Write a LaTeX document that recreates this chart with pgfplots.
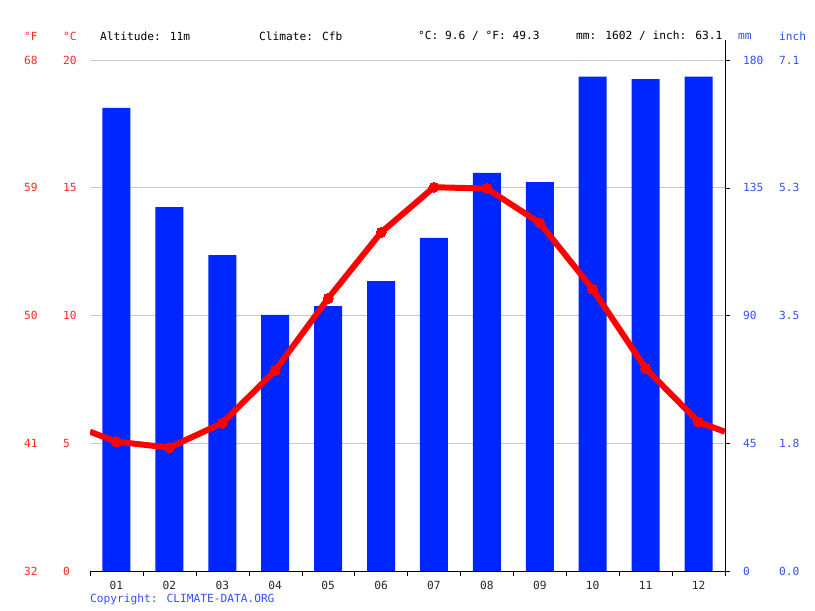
\documentclass[border=0pt]{standalone}
\usepackage{pgfplots}
\pgfplotsset{compat=1.18}
\usepackage{fontspec}
\setmainfont{DejaVu Sans Mono}

\definecolor{barblue}{RGB}{0,38,255}
\definecolor{linered}{RGB}{255,0,0}
\definecolor{lblred}{RGB}{255,40,40}
\definecolor{lblblue}{RGB}{50,80,255}
\definecolor{gridgray}{RGB}{200,200,200}
\definecolor{txtgray}{RGB}{40,40,40}

% precipitation (mm)
\pgfplotstableread{
m mm
1 163.1
2 128.2
3 111.3
4 90.2
5 93.3
6 102.1
7 117.3
8 140.2
9 137.0
10 174.1
11 173.3
12 174.1
}\precip

% temperature (C), half-months at the edges
\pgfplotstableread{
m t
0.5 5.45
1 5.06
2 4.83
3 5.79
4 7.85
5 10.67
6 13.25
7 15.02
8 14.97
9 13.62
10 11.03
11 7.93
12 5.83
12.5 5.45
}\temp

\pgfplotsset{
  base/.style={
    scale only axis, width=635pt, height=511pt,
    at={(90pt,40pt)}, anchor=south west,
    xmin=0.5, xmax=12.5,
    font=\fontsize{11.2}{13}\selectfont,
    /pgf/number format/assume math mode=true,
    tick label style={inner sep=0pt},
  },
}

\begin{document}
\begin{tikzpicture}
\path[use as bounding box] (0,0) rectangle (815pt,611pt);

% precipitation axis, right side
\begin{axis}[base,
  ymin=0, ymax=180,
  axis x line*=bottom, axis y line*=right,
  y axis line style={shorten >=-20pt},
  ytick={0,45,90,135,180},
  ymajorgrids, grid style={gridgray, line width=0.8pt},
  yticklabel style={anchor=west, text=lblblue, xshift=13pt},
  major y tick style={black}, major tick length=5pt, tick align=outside,
  xtick={1,...,12},
  xticklabels={01,02,03,04,05,06,07,08,09,10,11,12},
  xticklabel style={text=txtgray, yshift=-5pt},
  major x tick style={draw=none},
  minor xtick={0.5,1.5,...,12.5}, minor tick length=5pt,
  minor x tick style={black},
  x axis line style={black},
]
\addplot[ybar, bar width=28pt, fill=barblue, draw=none] table[x=m, y=mm] {\precip};
\end{axis}

% inch labels
\begin{axis}[base,
  ymin=0, ymax=180,
  hide x axis, axis y line*=right,
  y axis line style={draw=none},
  ytick={0,45,90,135,180},
  yticklabels={0.0,1.8,3.5,5.3,7.1},
  major tick length=0pt,
  yticklabel style={anchor=west, text=lblblue, xshift=54pt},
]
\addplot[draw=none] coordinates {(1,0)};
\end{axis}

% temperature axis, left side (C)
\begin{axis}[base,
  ymin=0, ymax=20, clip=true,
  hide x axis, axis y line*=left,
  y axis line style={draw=none},
  ytick={0,5,10,15,20},
  major tick length=0pt,
  yticklabel style={anchor=west, text=lblred, xshift=-27pt},
]
\addplot[linered, line width=6pt, mark=*, mark size=5pt,
  mark indices={2,...,13},
  mark options={fill=linered, draw=linered, line width=0pt}]
  table[x=m, y=t] {\temp};
\end{axis}

% Fahrenheit labels
\begin{axis}[base,
  ymin=0, ymax=20,
  hide x axis, axis y line*=left,
  y axis line style={draw=none},
  ytick={0,5,10,15,20},
  yticklabels={32,41,50,59,68},
  major tick length=0pt,
  yticklabel style={anchor=west, text=lblred, xshift=-66pt},
]
\addplot[draw=none] coordinates {(1,0)};
\end{axis}

\begin{scope}[every node/.style={inner sep=0pt, anchor=west, font=\fontsize{11.2}{13}\selectfont}]
\node[text=lblred] at (24pt,575pt) {°F};
\node[text=lblred] at (63pt,575pt) {°C};
\node at (100pt,575pt) {Altitude: 11m};
\node at (259pt,575pt) {Climate: Cfb};
\node at (418pt,575pt) {°C: 9.6 / °F: 49.3};
\node at (576pt,575pt) {mm: 1602 / inch: 63.1};
\node[text=lblblue] at (738pt,575pt) {mm};
\node[text=lblblue] at (779pt,575pt) {inch};
\node[text=lblblue] at (90pt,12pt) {Copyright: CLIMATE-DATA.ORG};
\end{scope}
\end{tikzpicture}
\end{document}
